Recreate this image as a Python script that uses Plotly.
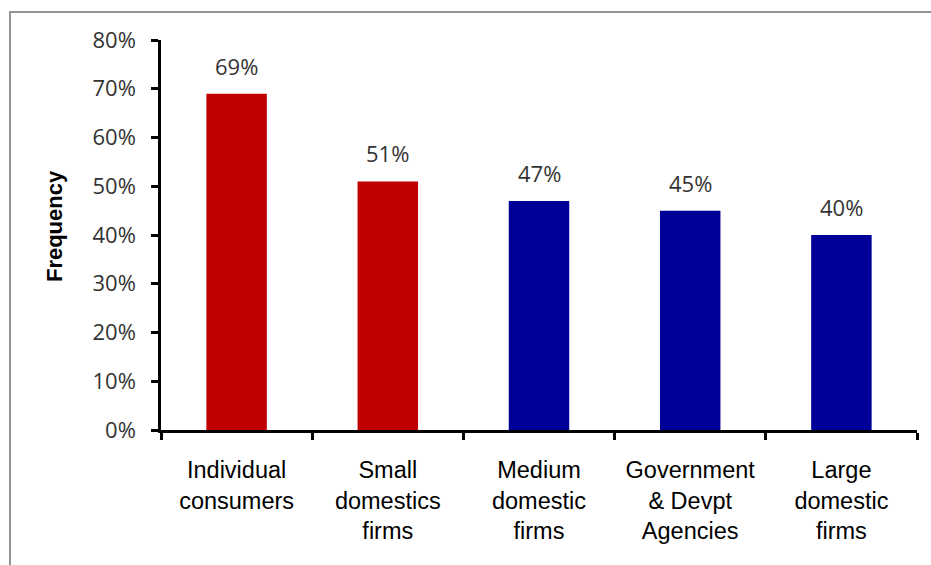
import plotly.graph_objects as go

categories = [
    "Individual<br>consumers",
    "Small<br>domestics<br>firms",
    "Medium<br>domestic<br>firms",
    "Government<br>& Devpt<br>Agencies",
    "Large<br>domestic<br>firms",
]
frequency_pct = [69, 51, 47, 45, 40]
bar_colors = ["#C00000", "#C00000", "#000099", "#000099", "#000099"]
y_ticks = [0, 10, 20, 30, 40, 50, 60, 70, 80]
y_tick_labels = [f"{v}%" for v in y_ticks]

fig = go.Figure()
fig.add_trace(go.Bar(
    x=categories,
    y=frequency_pct,
    marker=dict(color=bar_colors, line=dict(width=0)),
    width=0.4,
    hoverinfo="skip",
))

# value labels above each bar
for cat, val in zip(categories, frequency_pct):
    fig.add_annotation(
        x=cat, y=val, text=f"{val}%", showarrow=False,
        yanchor="bottom", yshift=11,
        font=dict(family="Open Sans", size=22, color="#333333"),
    )

# rotated y-axis title
fig.add_annotation(
    xref="paper", yref="paper", x=-0.1415, y=0.523,
    text="<b>Frequency</b>", textangle=-90, showarrow=False,
    xanchor="center", yanchor="middle",
    font=dict(family="Liberation Sans", size=22, color="black"),
)

# outer chart frame
fig.add_shape(
    type="rect", xref="paper", yref="paper",
    x0=-0.1997, x1=1.2, y0=-0.6, y1=1.0718,
    line=dict(color="#939393", width=2), fillcolor="rgba(0,0,0,0)",
    layer="below",
)

fig.update_layout(
    width=931, height=565,
    margin=dict(l=161, r=14, t=40, b=135),
    paper_bgcolor="white", plot_bgcolor="white",
    showlegend=False,
    bargap=0.6,
)
fig.update_xaxes(
    showline=True, linecolor="black", linewidth=2.5,
    ticks="outside", tickson="boundaries", ticklen=7, tickwidth=2.5, tickcolor="black",
    tickfont=dict(family="Liberation Sans", size=23.5, color="black"),
    ticklabelstandoff=17,
    showgrid=False, zeroline=False,
)
fig.update_yaxes(
    range=[0, 80], tickvals=y_ticks, ticktext=y_tick_labels,
    showline=True, linecolor="black", linewidth=2.5,
    ticks="outside", ticklen=7, tickwidth=2.5, tickcolor="black",
    tickfont=dict(family="Open Sans", size=22, color="#333333"),
    ticklabelstandoff=11,
    showgrid=False, zeroline=False,
)

fig.write_html("out.html")
